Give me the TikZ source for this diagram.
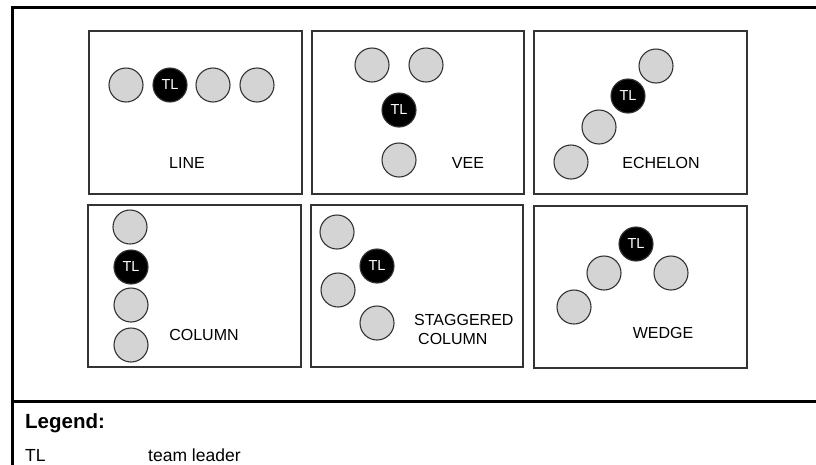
\documentclass[tikz,border=0pt]{standalone}
\usepackage{fontspec}
\setmainfont{Liberation Sans}
\usepackage{tikz}
\usetikzlibrary{positioning}
\tikzset{
    soldier/.style={circle, draw=black!80, fill=black!17, line width=1.1pt,
        minimum size=34pt, inner sep=0pt},
    leader/.style={soldier, fill=black, text=white,
        font=\fontsize{14.5}{14.5}\selectfont},
    panel/.style={draw=black!80, line width=1.1pt},
    caption/.style={font=\fontsize{16}{19}\selectfont, inner sep=0pt},
    frame/.style={draw=black, line width=3pt},
    legendtext/.style={anchor=base west, inner sep=0pt,
        font=\fontsize{17.5}{17.5}\selectfont},
}

\begin{document}
\begin{tikzpicture}[x=1pt, y=-1pt]
	\useasboundingbox (0,0) rectangle (816,464);
	% outer frame and legend divider
	\coordinate (ftr) at (816,7.5);
	\coordinate (ftl) at (12,7.5);
	\coordinate (fbl) at (12,466);
	\draw[frame] (ftr)--(ftl)--(fbl);
	\coordinate (dvl) at (12,401.5);
	\coordinate (dvr) at (816,401.5);
	\draw[frame] (dvl)--(dvr);
	% the six panels
	\draw[panel] (89,31) rectangle (302,194);
	\draw[panel] (312,31) rectangle (524,194);
	\draw[panel] (534,31) rectangle (747,194);
	\draw[panel] (88,205) rectangle (301,367);
	\draw[panel] (311,205) rectangle (523,367);
	\draw[panel] (534,206) rectangle (747,368);
	% line
	\node[soldier] (line1) at (126,85) {};
	\node[leader] (linetl) at (170,85) {TL};
	\node[soldier] (line2) at (213,85) {};
	\node[soldier] (line3) at (257,85) {};
	\node[caption] (linecap) at (187,163) {LINE};
	% vee
	\node[soldier] (vee1) at (372,65) {};
	\node[soldier] (vee2) at (426,65) {};
	\node[leader] (veetl) at (399,110) {TL};
	\node[soldier] (vee3) at (399,160) {};
	\node[caption] (veecap) at (468,163) {VEE};
	% echelon
	\node[soldier] (ech1) at (656,66) {};
	\node[leader] (echtl) at (628,96) {TL};
	\node[soldier] (ech2) at (599,127) {};
	\node[soldier] (ech3) at (571,162) {};
	\node[caption] (echcap) at (661,163) {ECHELON};
	% column
	\node[soldier] (col1) at (130,227) {};
	\node[leader] (coltl) at (131,267) {TL};
	\node[soldier] (col2) at (131,305) {};
	\node[soldier] (col3) at (131,345) {};
	\node[caption] (colcap) at (204,335) {COLUMN};
	% staggered column
	\node[soldier] (stag1) at (337,232) {};
	\node[leader] (stagtl) at (377,266) {TL};
	\node[soldier] (stag2) at (338,290) {};
	\node[soldier] (stag3) at (377,323) {};
	\node[caption, anchor=west, align=left] (stagcap) at (414,329)
		{STAGGERED\\\hspace*{4pt}COLUMN};
	% wedge
	\node[leader] (wedtl) at (636,244) {TL};
	\node[soldier] (wed1) at (604,273) {};
	\node[soldier] (wed2) at (671,273) {};
	\node[soldier] (wed3) at (574,307) {};
	\node[caption] (wedcap) at (663,333) {WEDGE};
	% legend
	\node[legendtext, font=\bfseries\fontsize{20.5}{20.5}\selectfont] (legend) at (25,428) {Legend:};
	\node[legendtext] (tlkey) at (25,461) {TL};
	\node[legendtext] (tldesc) at (148,461) {team leader};
\end{tikzpicture}
\end{document}
